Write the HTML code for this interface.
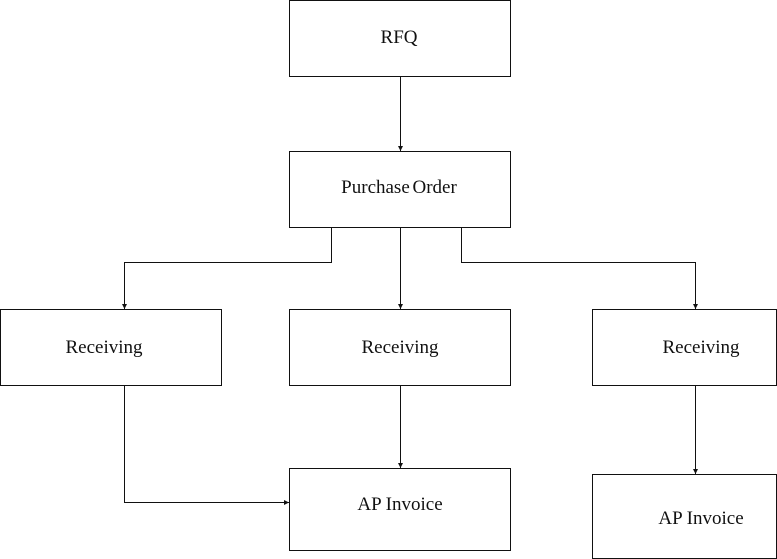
<!DOCTYPE html>
<html><head><meta charset="utf-8"><style>
html,body{margin:0;padding:0;background:#fff;}
svg{display:block;}
text{font-family:"Liberation Serif",serif;font-size:19px;fill:#111;text-anchor:middle;}
</style></head><body>
<svg width="777" height="559" viewBox="0 0 777 559" xmlns="http://www.w3.org/2000/svg">
<defs><marker id="a" markerWidth="6" markerHeight="6" refX="5" refY="3" orient="auto" markerUnits="userSpaceOnUse"><path d="M0,0.5 L5,3 L0,5.5 Z" fill="#111"/></marker></defs>
<g fill="none" stroke="#111" stroke-width="1">
<rect x="289.5" y="0.5" width="221" height="76"/>
<rect x="289.5" y="151.5" width="221" height="76"/>
<rect x="0.5" y="309.5" width="221" height="76"/>
<rect x="289.5" y="309.5" width="221" height="76"/>
<rect x="592.5" y="309.5" width="184" height="76"/>
<rect x="289.5" y="468.5" width="221" height="82"/>
<rect x="592.5" y="474.5" width="184" height="84"/>
<path d="M400.5,77 V151" marker-end="url(#a)"/>
<path d="M331.5,228 V262.5 H124.5 V309" marker-end="url(#a)"/>
<path d="M400.5,228 V309" marker-end="url(#a)"/>
<path d="M461.5,228 V262.5 H695.5 V309" marker-end="url(#a)"/>
<path d="M124.5,386 V502.5 H289" marker-end="url(#a)"/>
<path d="M400.5,386 V468" marker-end="url(#a)"/>
<path d="M695.5,386 V474" marker-end="url(#a)"/>
</g>
<text x="399" y="43">RFQ</text>
<text x="399" y="193" style="word-spacing:-2px">Purchase Order</text>
<text x="104" y="353">Receiving</text>
<text x="400" y="353">Receiving</text>
<text x="701" y="353">Receiving</text>
<text x="400" y="510">AP Invoice</text>
<text x="701" y="524">AP Invoice</text>
</svg>
</body></html>
